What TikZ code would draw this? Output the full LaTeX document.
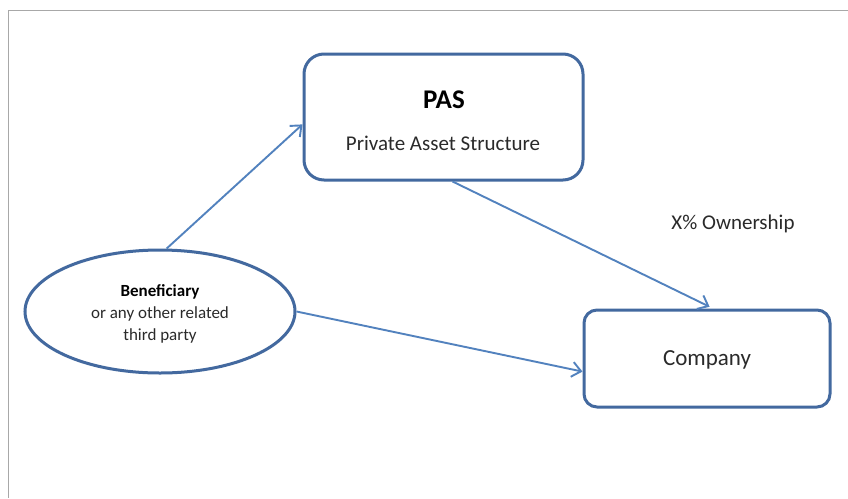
\documentclass[tikz,border=0pt]{standalone}
\usepackage{fontspec}
\setmainfont{Carlito}
\usetikzlibrary{arrows.meta,shapes.geometric}
\definecolor{boxblue}{HTML}{43699F}
\definecolor{arrowblue}{HTML}{5282BE}
\definecolor{framegray}{HTML}{A8A8A8}
\definecolor{txtgray}{HTML}{2A2A2A}
\tikzset{
  boxstyle/.style={draw=boxblue, line width=3pt, rounded corners=#1, fill=white, inner sep=0pt},
  conn/.style={draw=arrowblue, line width=1.9pt, -{Straight Barb[length=9pt,width=15pt,line width=1.9pt]}},
  lbl/.style={inner sep=0pt, text=txtgray, font=#1},
}
\begin{document}
\begin{tikzpicture}[x=1pt,y=-1pt]
\useasboundingbox (0,0) rectangle (848,498);
\fill[white] (0,0) rectangle (848,498);
% frame lines
\draw[framegray, line width=1.8pt] (848,10.5) -- (8.5,10.5) -- (8.5,498);
% nodes
\node[boxstyle=20pt, minimum width=279pt, minimum height=126pt] (pas) at (443.5,117) {};
\node[lbl={\fontsize{27}{30}\selectfont\bfseries}, text=black] (pastitle) at (444,100) {PAS};
\node[lbl={\fontsize{21}{24}\selectfont}] (passub) at (443,143) {Private Asset Structure};
\node[boxstyle=13pt, minimum width=246pt, minimum height=97pt] (comp) at (707,358.5) {};
\node[lbl={\fontsize{23}{27}\selectfont}] (comptxt) at (707,360) {Company};
\node[draw=boxblue, line width=3pt, ellipse, minimum width=270pt, minimum height=123pt, inner sep=0pt, fill=white] (ell) at (160,311.5) {};
\node[lbl={\fontsize{17}{20}\selectfont\bfseries}, text=black] (benef) at (160,292) {Beneficiary};
\node[lbl={\fontsize{17}{20}\selectfont}] (benef2) at (160,314) {or any other related};
\node[lbl={\fontsize{17}{20}\selectfont}] (benef3) at (160,336) {third party};
\node[lbl={\fontsize{21}{24}\selectfont}] (own) at (733,224) {X\% Ownership};
% connectors
\draw[conn] (ell.84) -- (pas.183);
\draw[conn, shorten >=4pt] (pas.278) -- (comp.83);
\draw[conn] (ell.east) -- (comp.186);
\end{tikzpicture}
\end{document}
